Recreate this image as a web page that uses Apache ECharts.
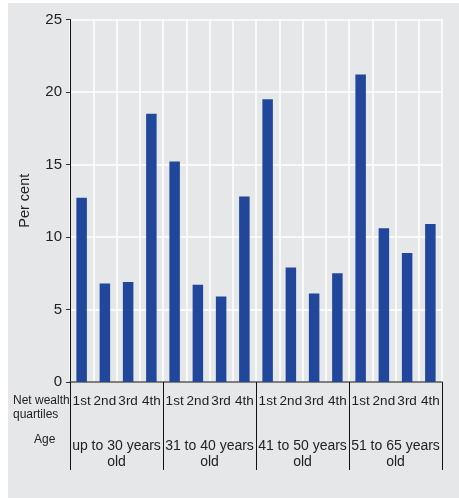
<!DOCTYPE html>
<html>
<head>
<meta charset="utf-8">
<script src="https://cdn.jsdelivr.net/npm/echarts@6/dist/echarts.min.js"></script>
<style>
  html, body { margin: 0; padding: 0; background: #ffffff; }
  #chart { width: 459px; height: 498px; }
</style>
</head>
<body>
<div id="chart"></div>
<script>
// data
var quartiles = ['1st', '2nd', '3rd', '4th',
                 '1st', '2nd', '3rd', '4th',
                 '1st', '2nd', '3rd', '4th',
                 '1st', '2nd', '3rd', '4th'];
var ageGroups = ['up to 30 years\nold', '31 to 40 years\nold', '41 to 50 years\nold', '51 to 65 years\nold'];
var shares = [12.7, 6.8, 6.9, 18.5,
              15.2, 6.7, 5.9, 12.8,
              19.5, 7.9, 6.1, 7.5,
              21.2, 10.6, 8.9, 10.9];
var yTicks = [0, 5, 10, 15, 20, 25];

var font = 'Liberation Sans, Arial, sans-serif';
var chart = echarts.init(document.getElementById('chart'));

chart.setOption({
    animation: false,
    textStyle: {fontFamily: font},
    graphic: [
        {
            type: 'rect', z: -10, silent: true,
            shape: {x: 8, y: 3, width: 451, height: 495},
            style: {fill: '#e6e7e9'}
        },
        {
            type: 'text', left: 13, top: 394,
            style: {
                text: 'Net wealth\nquartiles', fill: '#222', font: '12px ' + font,
                align: 'center', lineHeight: 14, width: 58
            }
        },
        {
            type: 'text', left: 34, top: 434,
            style: {text: 'Age', fill: '#222', font: '12px ' + font}
        }
    ],
    grid: {left: 70, right: 17, top: 19.5, bottom: 116},
    xAxis: [
        {
            type: 'category',
            data: quartiles,
            axisLine: {lineStyle: {color: '#555', width: 1.5}},
            axisTick: {show: false},
            axisLabel: {interval: 0, margin: 12, fontSize: 13.5, color: '#222'},
            splitLine: {show: true, interval: 0, lineStyle: {color: '#ffffff', width: 1.5}}
        },
        {
            type: 'category',
            data: ageGroups,
            position: 'bottom',
            axisLine: {show: false},
            axisTick: {show: true, length: 88, lineStyle: {color: '#111', width: 1}},
            axisLabel: {interval: 0, margin: 56, fontSize: 14, lineHeight: 16, color: '#222'},
            splitLine: {show: false}
        }
    ],
    yAxis: {
        type: 'value',
        min: yTicks[0],
        max: yTicks[yTicks.length - 1],
        interval: 5,
        name: 'Per cent',
        nameLocation: 'middle',
        nameGap: 38,
        nameTextStyle: {fontSize: 14.5, color: '#222'},
        axisLine: {show: true, lineStyle: {color: '#111', width: 1}},
        axisTick: {show: true, length: 4, lineStyle: {color: '#333'}},
        axisLabel: {fontSize: 15, color: '#222', margin: 8},
        splitLine: {lineStyle: {color: '#ffffff', width: 1.5}}
    },
    series: [{
        type: 'bar',
        data: shares,
        barWidth: 10.5,
        itemStyle: {color: '#20479b'}
    }]
});
</script>
</body>
</html>
